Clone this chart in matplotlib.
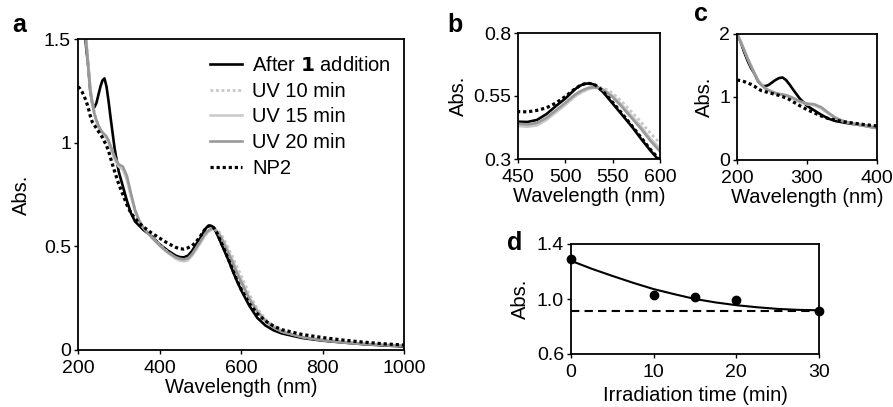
import numpy as np
import matplotlib
matplotlib.use("Agg")
import matplotlib.pyplot as plt

plt.rcParams['font.family'] = ['Liberation Sans', 'DejaVu Sans']
plt.rcParams['font.size'] = 14.5
plt.rcParams['axes.linewidth'] = 1.3

# wavelengths (nm) shared by all spectra
wl = [200, 205, 210, 215, 220, 225, 230, 235, 240, 245, 250, 255, 260, 265, 270, 275, 280,
      290, 300, 310, 320, 330, 340, 350, 360, 380, 400, 420, 440,
      450, 460, 470, 480, 490, 500, 510, 515, 520, 525, 530, 535, 540,
      550, 560, 570, 580, 590, 600, 620, 640, 660, 680, 700,
      750, 800, 850, 900, 950, 1000]

after_1 = [2.00, 1.88, 1.72, 1.58, 1.46, 1.37, 1.25, 1.19, 1.17, 1.19, 1.23, 1.27, 1.30, 1.31, 1.27, 1.20, 1.12,
           0.97, 0.86, 0.79, 0.72, 0.66, 0.62, 0.60, 0.58, 0.55, 0.51, 0.48, 0.455,
           0.448, 0.447, 0.455, 0.478, 0.51, 0.54, 0.576, 0.59, 0.598, 0.600, 0.596, 0.582, 0.565,
           0.52, 0.475, 0.43, 0.38, 0.333, 0.29, 0.215, 0.155, 0.118, 0.095, 0.08,
           0.058, 0.045, 0.036, 0.028, 0.022, 0.017]

uv_10 = [2.00, 1.89, 1.76, 1.63, 1.50, 1.38, 1.27, 1.20, 1.15, 1.11, 1.08, 1.06, 1.05, 1.04, 1.025, 1.005, 0.98,
         0.925, 0.89, 0.875, 0.825, 0.745, 0.675, 0.625, 0.592, 0.548, 0.508, 0.473, 0.443,
         0.435, 0.432, 0.437, 0.458, 0.487, 0.517, 0.548, 0.56, 0.57, 0.578, 0.583, 0.585, 0.582,
         0.562, 0.527, 0.487, 0.447, 0.402, 0.362, 0.27, 0.20, 0.15, 0.115, 0.093,
         0.065, 0.05, 0.04, 0.032, 0.026, 0.021]

uv_15 = [2.00, 1.89, 1.76, 1.62, 1.50, 1.38, 1.26, 1.19, 1.14, 1.10, 1.075, 1.055, 1.045, 1.035, 1.02, 1.00, 0.975,
         0.92, 0.885, 0.87, 0.82, 0.74, 0.67, 0.62, 0.59, 0.545, 0.505, 0.47, 0.44,
         0.431, 0.428, 0.433, 0.455, 0.485, 0.515, 0.548, 0.56, 0.57, 0.578, 0.582, 0.582, 0.577,
         0.552, 0.514, 0.472, 0.43, 0.38, 0.342, 0.255, 0.19, 0.143, 0.11, 0.09,
         0.063, 0.048, 0.038, 0.03, 0.025, 0.02]

uv_20 = [2.00, 1.88, 1.75, 1.61, 1.49, 1.37, 1.26, 1.19, 1.14, 1.11, 1.085, 1.065, 1.05, 1.04, 1.03, 1.01, 0.985,
         0.93, 0.895, 0.885, 0.84, 0.755, 0.675, 0.625, 0.59, 0.545, 0.505, 0.472, 0.447,
         0.44, 0.437, 0.443, 0.463, 0.493, 0.523, 0.555, 0.567, 0.576, 0.583, 0.585, 0.582, 0.574,
         0.546, 0.506, 0.463, 0.42, 0.372, 0.33, 0.248, 0.185, 0.14, 0.108, 0.088,
         0.062, 0.047, 0.037, 0.03, 0.024, 0.02]

np2 = [1.27, 1.26, 1.245, 1.225, 1.20, 1.17, 1.13, 1.10, 1.085, 1.07, 1.055, 1.04, 1.025, 1.005, 0.985, 0.96, 0.925,
       0.86, 0.80, 0.75, 0.70, 0.66, 0.635, 0.612, 0.595, 0.565, 0.54, 0.515, 0.495,
       0.488, 0.487, 0.493, 0.503, 0.522, 0.548, 0.578, 0.59, 0.598, 0.600, 0.597, 0.585, 0.568,
       0.525, 0.48, 0.433, 0.385, 0.337, 0.295, 0.225, 0.175, 0.14, 0.115, 0.098,
       0.075, 0.06, 0.048, 0.038, 0.03, 0.024]

# panel d: absorbance vs irradiation time
time_pts = [0, 10, 15, 20, 30]
abs_pts = [1.29, 1.03, 1.013, 0.99, 0.915]
fit_t = [0, 2.5, 5, 7.5, 10, 12.5, 15, 17.5, 20, 22.5, 25, 27.5, 30]
fit_abs = [1.278, 1.22, 1.168, 1.118, 1.072, 1.035, 1.0, 0.975, 0.955, 0.94, 0.928, 0.921, 0.918]
np2_level = 0.914

series = [
    ("After $\\mathbf{1}$ addition", after_1, dict(color='black', lw=1.9, ls='-')),
    ("UV 10 min", uv_10, dict(color='#c8c8c8', lw=2.0, ls=(0, (1, 1)))),
    ("UV 15 min", uv_15, dict(color='#cbcbcb', lw=1.9, ls='-')),
    ("UV 20 min", uv_20, dict(color='#999999', lw=1.9, ls='-')),
    ("NP2", np2, dict(color='black', lw=2.3, ls=(0, (1, 0.9)))),
]

fig = plt.figure(figsize=(8.93, 4.07), dpi=100)
W, H = 893.0, 407.0


def add_ax(l, t, r, b):
    return fig.add_axes([l / W, 1 - b / H, (r - l) / W, (b - t) / H])


def style(ax):
    ax.tick_params(direction='out', length=3, width=1, labelsize=14)
    ax.tick_params(axis='x', pad=4)
    ax.tick_params(axis='y', pad=2)
    for s in ax.spines.values():
        s.set_color('black')


ax_a = add_ax(78, 39, 404, 350)
ax_b = add_ax(518, 33, 660, 159)
ax_c = add_ax(737, 34, 877, 160)
ax_d = add_ax(571, 244, 819, 354)

for label, y, kw in series:
    ax_a.plot(wl, y, label=label, **kw)
    ax_b.plot(wl, y, **kw)
    ax_c.plot(wl, y, **kw)

# panel a
ax_a.set_xlim(200, 1000)
ax_a.set_ylim(0, 1.5)
ax_a.set_xticks([200, 400, 600, 800, 1000])
ax_a.set_yticks([0, 0.5, 1, 1.5])
ax_a.set_yticklabels(['0', '0.5', '1', '1.5'])
ax_a.set_xlabel('Wavelength (nm)', labelpad=1)
ax_a.set_ylabel('Abs.', labelpad=9)
leg = ax_a.legend(loc='upper left', bbox_to_anchor=(0.405, 0.945), frameon=False,
                  fontsize=14.5, handlelength=1.6, handletextpad=0.5,
                  labelspacing=0.33, borderpad=0, borderaxespad=0)
style(ax_a)

# panel b
ax_b.set_xlim(450, 600)
ax_b.set_ylim(0.3, 0.8)
ax_b.set_xticks([450, 500, 550, 600])
ax_b.set_yticks([0.3, 0.55, 0.8])
ax_b.set_yticklabels(['0.3', '0.55', '0.8'])
ax_b.set_xlabel('Wavelength (nm)', labelpad=1)
ax_b.set_ylabel('Abs.', labelpad=4)
style(ax_b)

# panel c
ax_c.set_xlim(200, 400)
ax_c.set_ylim(0, 2)
ax_c.set_xticks([200, 300, 400])
ax_c.set_yticks([0, 1, 2])
ax_c.set_xlabel('Wavelength (nm)', labelpad=1)
ax_c.set_ylabel('Abs.', labelpad=4)
style(ax_c)

# panel d
ax_d.plot(fit_t, fit_abs, color='black', lw=1.5)
ax_d.plot([0, 30], [np2_level, np2_level], color='black', lw=1.5, ls=(0, (4, 2.5)))
ax_d.plot(time_pts, abs_pts, 'o', color='black', ms=6, clip_on=False, zorder=5)
ax_d.set_xlim(0, 30)
ax_d.set_ylim(0.6, 1.4)
ax_d.set_xticks([0, 10, 20, 30])
ax_d.set_yticks([0.6, 1.0, 1.4])
ax_d.set_yticklabels(['0.6', '1.0', '1.4'])
ax_d.set_xlabel('Irradiation time (min)', labelpad=4)
ax_d.set_ylabel('Abs.', labelpad=5)
style(ax_d)

for x, y, s in [(12, 32, 'a'), (447, 32, 'b'), (694, 21, 'c'), (507, 250, 'd')]:
    fig.text(x / W, 1 - y / H, s, fontsize=18, fontweight='bold', va='baseline', ha='left')

fig.savefig('out.png', dpi=100)
